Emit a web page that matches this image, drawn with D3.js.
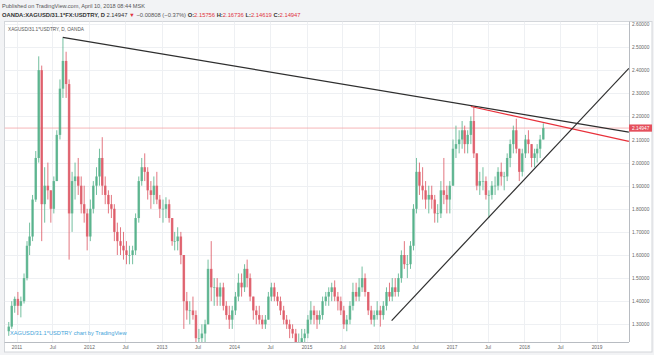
<!DOCTYPE html>
<html>
<head>
<meta charset="utf-8">
<script src="https://cdn.jsdelivr.net/npm/d3@7"></script>
<style>
  body { margin: 0; background: #f2f3f5; }
  svg { display: block; font-family: Arial, "Liberation Sans", sans-serif; }
</style>
</head>
<body>
<svg id="chart" width="654" height="355"></svg>
<script>
// half-month candles, first one starts 2010-11-16, then the 1st and 16th of each month
var firstCandle = "2010-11-16";
var firstOpen = 1.27;

var highs = [
  1.31, 1.40, 1.42, // 2010
  1.44, 1.42, 1.52, 1.66, 1.74, 1.86, 2.05, 2.46, 2.42, 1.98, 2.00, 1.88, 1.94, 2.14, 2.36, 2.54, 2.48, 2.36, 1.96, 2.00, 2.02, 1.94, 1.90, 1.80,
  1.84, 1.92, 1.98, 2.06, 2.11, 1.94, 1.88, 1.86, 1.82, 1.74, 1.72, 1.70, 1.66, 1.64, 1.64, 1.78, 1.94, 2.02, 2.04, 1.98, 1.92, 1.94, 1.96, 1.86,
  1.84, 1.85, 1.84, 1.76, 1.70, 1.72, 1.70, 1.60, 1.44, 1.40, 1.42, 1.36, 1.28, 1.30, 1.32, 1.58, 1.66, 1.50, 1.50, 1.48, 1.48, 1.40, 1.38, 1.38,
  1.44, 1.52, 1.52, 1.56, 1.58, 1.52, 1.42, 1.38, 1.38, 1.34, 1.34, 1.44, 1.48, 1.48, 1.44, 1.42, 1.38, 1.34, 1.32, 1.30, 1.28, 1.26, 1.28, 1.28,
  1.34, 1.40, 1.38, 1.36, 1.36, 1.42, 1.44, 1.46, 1.48, 1.49, 1.44, 1.42, 1.38, 1.34, 1.40, 1.48, 1.48, 1.50, 1.55, 1.52, 1.44, 1.38, 1.36, 1.40,
  1.38, 1.40, 1.46, 1.48, 1.50, 1.50, 1.52, 1.62, 1.66, 1.60, 1.66, 1.82, 2.02, 2.00, 1.98, 1.92, 1.90, 1.90, 1.86, 1.82, 1.92, 2.02, 1.90, 1.92,
  2.10, 2.16, 2.14, 2.18, 2.16, 2.14, 2.20, 2.24, 2.04, 1.96, 1.98, 1.94, 1.88, 1.92, 1.94, 1.98, 2.00, 1.96, 2.04, 2.10, 2.16, 2.19, 2.06, 2.06,
  2.12, 2.14, 2.08, 2.06, 2.08, 2.12, 2.17
];
var lows = [
  1.25, 1.28, 1.35,
  1.34, 1.33, 1.39, 1.49, 1.60, 1.66, 1.83, 2.00, 1.66, 1.74, 1.84, 1.74, 1.78, 1.92, 2.10, 2.28, 2.28, 1.58, 1.70, 1.84, 1.86, 1.78, 1.74, 1.62,
  1.66, 1.78, 1.86, 1.90, 1.86, 1.82, 1.78, 1.76, 1.66, 1.60, 1.60, 1.58, 1.56, 1.56, 1.56, 1.60, 1.74, 1.90, 1.92, 1.84, 1.80, 1.82, 1.82, 1.76,
  1.74, 1.76, 1.74, 1.64, 1.62, 1.62, 1.56, 1.28, 1.32, 1.30, 1.32, 1.20, 1.18, 1.20, 1.22, 1.30, 1.40, 1.38, 1.38, 1.38, 1.36, 1.32, 1.28, 1.28,
  1.34, 1.40, 1.42, 1.44, 1.46, 1.40, 1.32, 1.30, 1.30, 1.28, 1.28, 1.32, 1.40, 1.40, 1.38, 1.34, 1.30, 1.28, 1.24, 1.24, 1.20, 1.18, 1.20, 1.20,
  1.24, 1.30, 1.30, 1.28, 1.30, 1.32, 1.38, 1.38, 1.40, 1.40, 1.36, 1.34, 1.28, 1.27, 1.30, 1.36, 1.40, 1.40, 1.44, 1.42, 1.34, 1.30, 1.29, 1.32,
  1.29, 1.32, 1.36, 1.40, 1.40, 1.42, 1.42, 1.48, 1.54, 1.50, 1.54, 1.62, 1.78, 1.86, 1.84, 1.80, 1.78, 1.80, 1.74, 1.74, 1.76, 1.82, 1.78, 1.78,
  1.90, 2.02, 2.04, 2.06, 2.04, 2.04, 2.08, 2.02, 1.88, 1.86, 1.88, 1.84, 1.76, 1.84, 1.86, 1.88, 1.90, 1.88, 1.92, 1.98, 2.04, 2.04, 1.92, 1.94,
  2.02, 2.04, 1.98, 1.98, 2.00, 2.02, 2.10
];
var closes = [
  1.29, 1.38, 1.41,
  1.38, 1.40, 1.50, 1.64, 1.68, 1.84, 2.02, 2.40, 1.82, 1.90, 1.88, 1.80, 1.92, 2.12, 2.32, 2.44, 2.34, 1.78, 1.92, 1.94, 1.90, 1.82, 1.78, 1.68,
  1.80, 1.90, 1.94, 2.02, 1.90, 1.86, 1.82, 1.80, 1.70, 1.66, 1.64, 1.62, 1.60, 1.60, 1.62, 1.76, 1.92, 1.98, 1.96, 1.88, 1.86, 1.90, 1.84, 1.80,
  1.80, 1.82, 1.76, 1.66, 1.66, 1.68, 1.60, 1.40, 1.36, 1.36, 1.34, 1.24, 1.24, 1.26, 1.30, 1.54, 1.46, 1.46, 1.42, 1.46, 1.38, 1.34, 1.32, 1.36,
  1.42, 1.48, 1.46, 1.54, 1.50, 1.42, 1.36, 1.34, 1.32, 1.30, 1.32, 1.42, 1.46, 1.42, 1.40, 1.36, 1.32, 1.30, 1.28, 1.26, 1.22, 1.22, 1.24, 1.26,
  1.32, 1.36, 1.34, 1.32, 1.34, 1.40, 1.42, 1.44, 1.46, 1.42, 1.40, 1.36, 1.30, 1.32, 1.38, 1.44, 1.42, 1.46, 1.50, 1.44, 1.36, 1.32, 1.34, 1.36,
  1.34, 1.38, 1.44, 1.42, 1.46, 1.44, 1.50, 1.60, 1.56, 1.56, 1.64, 1.80, 1.96, 1.90, 1.88, 1.84, 1.86, 1.84, 1.78, 1.78, 1.88, 1.86, 1.84, 1.90,
  2.06, 2.08, 2.10, 2.14, 2.08, 2.12, 2.18, 2.04, 1.90, 1.92, 1.92, 1.86, 1.86, 1.90, 1.90, 1.96, 1.94, 1.94, 2.02, 2.08, 2.14, 2.06, 1.96, 2.04,
  2.10, 2.08, 2.02, 2.04, 2.06, 2.10, 2.14947
];

var lastPrice = 2.14947;
var yTicks = [1.3, 1.4, 1.5, 1.6, 1.7, 1.8, 1.9, 2.0, 2.1, 2.2, 2.3, 2.4, 2.5, 2.6];
var xTicks = ["2011-01-01", "2011-07-01", "2012-01-01", "2012-07-01", "2013-01-01", "2013-07-01",
  "2014-01-01", "2014-07-01", "2015-01-01", "2015-07-01", "2016-01-01", "2016-07-01",
  "2017-01-01", "2017-07-01", "2018-01-01", "2018-07-01", "2019-01-01"];
var xTickLabels = ["2011", "Jul", "2012", "Jul", "2013", "Jul", "2014", "Jul", "2015", "Jul",
  "2016", "Jul", "2017", "Jul", "2018", "Jul", "2019"];

// drawn trend lines: [date, value]
var topLine = [["2011-08-22", 2.542], ["2019-06-13", 2.132]];
var redLine = [["2017-04-08", 2.243], ["2019-06-13", 2.092]];
var riseLine = [["2016-03-05", 1.316], ["2019-06-13", 2.408]];

var parse = d3.timeParse("%Y-%m-%d");
var svg = d3.select("#chart");

var box = {left: 4.5, top: 21.5, right: 652, bottom: 352};
var plot = {left: 4.5, top: 21.5, right: 629, bottom: 342};

var x = d3.scaleTime()
  .domain([parse("2011-01-01"), parse("2019-01-01")])
  .range([16.5, 596.5]);
var y = d3.scaleLinear()
  .domain([1.3, 2.6])
  .range([324.3, 24]);

// candle dates
var dates = [];
var d = parse(firstCandle);
for (var i = 0; i < closes.length; i++) {
  dates.push(d);
  d = d.getDate() == 1 ? new Date(d.getFullYear(), d.getMonth(), 16) : new Date(d.getFullYear(), d.getMonth() + 1, 1);
}
var candles = closes.map(function(c, i) {
  return {date: dates[i], open: i == 0 ? firstOpen : closes[i - 1], high: highs[i], low: lows[i], close: c};
});

// white chart box
svg.append("rect")
  .attr("x", box.left).attr("y", box.top)
  .attr("width", box.right - box.left).attr("height", box.bottom - box.top)
  .attr("fill", "#fff").attr("stroke", "#d3d6da").attr("stroke-width", 1);

svg.append("clipPath").attr("id", "clip")
  .append("rect")
  .attr("x", plot.left).attr("y", plot.top)
  .attr("width", plot.right - plot.left).attr("height", plot.bottom - plot.top);

// grid
var grid = svg.append("g").attr("clip-path", "url(#clip)");
grid.selectAll(".hg").data(yTicks).enter().append("line")
  .attr("x1", plot.left).attr("x2", plot.right)
  .attr("y1", function(v) { return Math.round(y(v)) + 0.5; })
  .attr("y2", function(v) { return Math.round(y(v)) + 0.5; })
  .attr("stroke", "#eef0f3");
grid.selectAll(".vg").data(xTicks).enter().append("line")
  .attr("y1", plot.top).attr("y2", plot.bottom)
  .attr("x1", function(t) { return Math.round(x(parse(t))) + 0.5; })
  .attr("x2", function(t) { return Math.round(x(parse(t))) + 0.5; })
  .attr("stroke", "#eef0f3");

var inner = svg.append("g").attr("clip-path", "url(#clip)");

// current price line
inner.append("line")
  .attr("x1", plot.left).attr("x2", plot.right)
  .attr("y1", y(lastPrice)).attr("y2", y(lastPrice))
  .attr("stroke", "#f2a2a6").attr("stroke-width", 0.8);

// candles
var upCol = "#4fae86", downCol = "#dc5360";
var halfW = 1.25;
var g = inner.selectAll(".c").data(candles).enter().append("g");
g.append("line")
  .attr("x1", function(c) { return x(d3.timeDay.offset(c.date, 7)); })
  .attr("x2", function(c) { return x(d3.timeDay.offset(c.date, 7)); })
  .attr("y1", function(c) { return y(c.high); })
  .attr("y2", function(c) { return y(c.low); })
  .attr("stroke", function(c) { return c.close >= c.open ? upCol : downCol; })
  .attr("stroke-width", 0.8);
g.append("rect")
  .attr("x", function(c) { return x(d3.timeDay.offset(c.date, 7)) - halfW; })
  .attr("width", halfW * 2)
  .attr("y", function(c) { return y(Math.max(c.open, c.close)); })
  .attr("height", function(c) { return Math.max(0.6, Math.abs(y(c.open) - y(c.close))); })
  .attr("fill", function(c) { return c.close >= c.open ? upCol : downCol; })
  .attr("opacity", 0.8);

// trend lines
var line = d3.line()
  .x(function(p) { return x(parse(p[0])); })
  .y(function(p) { return y(p[1]); });
inner.append("path").attr("d", line(topLine)).attr("fill", "none").attr("stroke", "#2e2e2e").attr("stroke-width", 1.2);
inner.append("path").attr("d", line(redLine)).attr("fill", "none").attr("stroke", "#e8303a").attr("stroke-width", 1.1);
inner.append("path").attr("d", line(riseLine)).attr("fill", "none").attr("stroke", "#2e2e2e").attr("stroke-width", 1.2);

// price axis
var yAxis = svg.append("g")
  .attr("transform", "translate(" + plot.right + ",0)")
  .call(d3.axisRight(y).tickValues(yTicks).tickFormat(d3.format(".5f")).tickSize(0).tickPadding(3));
yAxis.select(".domain").remove();
yAxis.selectAll("text").attr("font-size", 4.8).attr("fill", "#666").attr("font-family", "Arial, 'Liberation Sans', sans-serif");
svg.append("line")
  .attr("x1", plot.right + 0.5).attr("x2", plot.right + 0.5)
  .attr("y1", plot.top).attr("y2", plot.bottom)
  .attr("stroke", "#b8bcc2").attr("stroke-width", 1);

// time axis
var xAxis = svg.append("g")
  .attr("transform", "translate(0," + plot.bottom + ")")
  .call(d3.axisBottom(x).tickValues(xTicks.map(parse))
    .tickFormat(function(t, i) { return xTickLabels[i]; })
    .tickSize(0).tickPadding(4));
xAxis.select(".domain").remove();
xAxis.selectAll("text").attr("font-size", 4.8).attr("fill", "#666").attr("font-family", "Arial, 'Liberation Sans', sans-serif");
svg.append("line")
  .attr("x1", plot.left).attr("x2", plot.right)
  .attr("y1", plot.bottom + 0.5).attr("y2", plot.bottom + 0.5)
  .attr("stroke", "#b8bcc2").attr("stroke-width", 1);

// last price badge
svg.append("rect")
  .attr("x", plot.right).attr("y", y(lastPrice) - 3.6)
  .attr("width", box.right - plot.right).attr("height", 7.2)
  .attr("fill", "#e5505d");
svg.append("text")
  .attr("x", plot.right + 3).attr("y", y(lastPrice))
  .attr("dy", "0.35em").attr("font-size", 4.8).attr("fill", "#fff")
  .text(d3.format(".5f")(lastPrice));

// header
svg.append("text").attr("x", 2).attr("y", 7.5)
  .attr("font-size", 5.6).attr("fill", "#555")
  .text("Published on TradingView.com, April 10, 2018 08:44 MSK");
var hdr = svg.append("text").attr("x", 2).attr("y", 16.5).attr("font-size", 5.8).attr("fill", "#333");
hdr.append("tspan").attr("font-weight", "bold").text("OANDA:XAGUSD/31.1*FX:USDTRY, D");
hdr.append("tspan").text(" 2.14947 ");
hdr.append("tspan").attr("fill", "#e0343e").text("▼");
hdr.append("tspan").attr("fill", "#555").text(" \u22120.00808 (\u22120.37%) ");
[["O:", "2.15756"], ["H:", "2.16736"], ["L:", "2.14619"], ["C:", "2.14947"]].forEach(function(p) {
  hdr.append("tspan").attr("font-weight", "bold").text(p[0]);
  hdr.append("tspan").attr("fill", "#e0343e").text(p[1] + " ");
});

// labels inside the chart
svg.append("text").attr("x", 8).attr("y", 31)
  .attr("font-size", 4.7).attr("fill", "#555")
  .text("XAGUSD/31.1*USDTRY, D, OANDA");
svg.append("text").attr("x", 10).attr("y", 335)
  .attr("font-size", 5.7).attr("fill", "#3fa3d9")
  .text("XAGUSD/31.1*USDTRY chart by TradingView");
</script>
</body>
</html>
